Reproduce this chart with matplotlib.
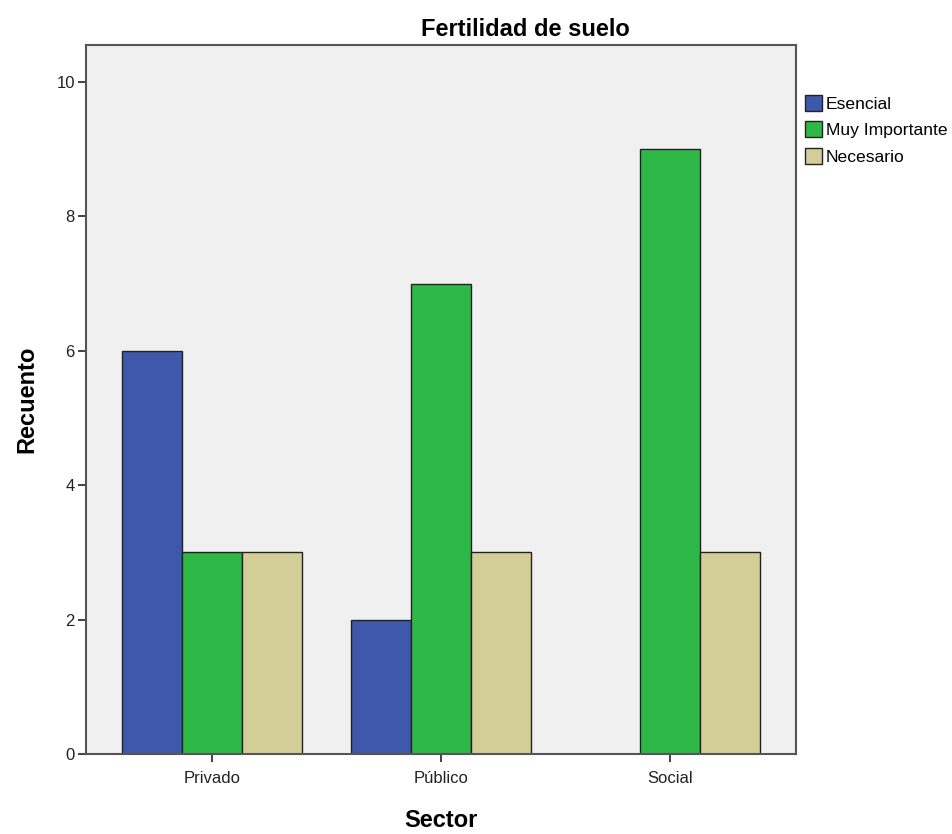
import numpy as np
import matplotlib
matplotlib.use("Agg")
import matplotlib.pyplot as plt

sectors = ["Privado", "Público", "Social"]
esencial = [6, 2, 0]
muy_importante = [3, 7, 9]
necesario = [3, 3, 3]
series_names = ["Esencial", "Muy Importante", "Necesario"]
colors = ["#3E58AC", "#2EB848", "#D3CE97"]

plt.rcParams["font.family"] = ["Liberation Sans", "DejaVu Sans"]

fig = plt.figure(figsize=(9.52, 8.34), dpi=100)
ax = fig.add_axes([0.0903, 0.0959, 0.746, 0.850])
ax.set_facecolor("#F0F0F0")

x = np.arange(len(sectors))
w = 0.262
for i, (vals, name, c) in enumerate(zip([esencial, muy_importante, necesario], series_names, colors)):
    ax.bar(x + (i - 1) * w, vals, width=w, color=c, edgecolor="#222222", linewidth=1.0, label=name)

ax.set_xlim(-0.55, 2.55)
ax.set_ylim(0, 10.55)
ax.set_yticks([0, 2, 4, 6, 8, 10])
ax.set_xticks(x)
ax.set_xticklabels(sectors)
ax.tick_params(labelsize=12, length=6, width=1.2, colors="#222222")
ax.tick_params(axis="x", pad=6)
ax.tick_params(axis="y", pad=2)
for s in ax.spines.values():
    s.set_color("#555555")
    s.set_linewidth(1.5)

ax.set_ylabel("Recuento", fontsize=17, fontweight="bold", labelpad=13)
ax.set_xlabel("Sector", fontsize=17, fontweight="bold", labelpad=17)
fig.text(525 / 952, 1 - 30 / 834, "Fertilidad de suelo", fontsize=17, fontweight="bold", ha="center", va="center")

ax.legend(loc="upper left", bbox_to_anchor=(1.0, 0.942), frameon=False, fontsize=12.6,
          handlelength=1.0, handleheight=1.0, handletextpad=0.2, labelspacing=0.55, borderaxespad=0.1)

fig.savefig("out.png", dpi=100)
